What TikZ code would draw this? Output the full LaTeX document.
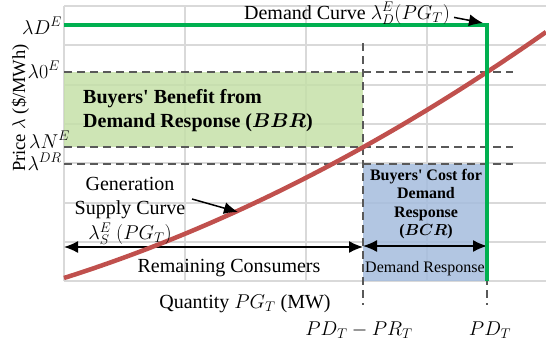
\RequirePackage{fix-cm}
\documentclass[tikz,border=0pt]{standalone}
\usepackage{amsmath}
\usepackage{bm}
\usepackage{fontspec}
\setmainfont{Liberation Serif}
\usetikzlibrary{arrows,arrows.meta,positioning}
\definecolor{gridgray}{RGB}{217,217,217}
\definecolor{guidegray}{RGB}{89,89,89}
\definecolor{supplyred}{RGB}{192,80,77}
\definecolor{demandgreen}{RGB}{0,176,80}
\definecolor{bbrgreen}{RGB}{197,224,168}
\definecolor{bcrblue}{RGB}{165,188,221}
\tikzstyle{gridline} = [draw, line width=1.2pt, color=gridgray]
\tikzstyle{guide} = [draw, line width=2.2pt, color=guidegray, dash pattern=on 8pt off 5pt]
\tikzstyle{supply} = [draw, line width=4.5pt, color=supplyred]
\tikzstyle{demand} = [draw, line width=4pt, color=demandgreen]
\tikzstyle{arrow} = [draw, line width=1.5pt, -{Latex[length=14pt,width=12pt]}]
\tikzstyle{span} = [draw, line width=1.5pt, {Latex[length=14pt,width=12pt]}-{Latex[length=14pt,width=12pt]}]
\tikzstyle{pricelabel} = [anchor=base east, inner sep=0pt, font=\fontsize{20}{24}\selectfont]
\tikzstyle{textlabel} = [anchor=base, inner sep=0pt, align=center, font=\fontsize{20}{24}\selectfont]
\tikzstyle{arealabel} = [inner sep=0pt, align=left, font=\fontsize{20}{24.5}\selectfont\bfseries]
\tikzstyle{smalllabel} = [inner sep=0pt, align=center, font=\fontsize{16}{18.5}\selectfont]
\newcommand{\pricelabel}[2]{node (l#1) [pricelabel] {#2}}
\newcommand{\sq}{\textquotesingle}

\begin{document}
\begin{tikzpicture}[x=1pt,y=-1pt]
\useasboundingbox (0,0) rectangle (546,349);
% grid
\foreach \x in {64,185,306,427} \path [gridline] (\x,6) -- (\x,281);
\foreach \y in {6,45,85,124,163,203,242,281} \path [gridline] (64,\y) -- (546,\y);

% areas
\path [fill=bbrgreen, fill opacity=0.85] (64,72) rectangle (363,147);
\path [fill=bcrblue, fill opacity=0.85] (363,164) rectangle (487,281);

% price and quantity levels
\coordinate (p0w) at (64,72);   \coordinate (p0e) at (513,72);
\coordinate (pNw) at (64,147);  \coordinate (pNe) at (513,147);
\coordinate (pRw) at (64,164);  \coordinate (pRe) at (513,164);
\coordinate (qRn) at (363,43);  \coordinate (qRs) at (363,305);
\coordinate (qDn) at (487,43);  \coordinate (qDs) at (487,305);
\path [guide] (p0w) -- (p0e);
\path [guide] (pNw) -- (pNe);
\path [guide] (pRw) -- (pRe);
\path [guide] (qRn) -- (qRs);
\path [guide] (qDn) -- (qDs);

% spans
\coordinate (s0) at (64,247);
\coordinate (s1) at (363,247);
\coordinate (s2) at (363,246);
\coordinate (s3) at (487,246);
\path [span] (s0) -- (s1);
\path [span] (s2) -- (s3);

% supply curve
\coordinate (sa) at (64,278);
\coordinate (sb) at (546,32);
\path [supply] (sa) .. controls (225,227) and (385,145) .. (sb);

% demand curve
\coordinate (da) at (64,25);
\coordinate (db) at (487,281);
\path [demand, line join=miter] (da) -| (db);

% price labels
\path (62,34) \pricelabel{1}{$\lambda D^E$};
\path (60,78) \pricelabel{2}{$\lambda 0^E$};
\path (70,148) \pricelabel{3}{$\lambda N^E$};
\path (62,170) \pricelabel{4}{$\lambda^{DR}$};
\node (yaxis) [textlabel, rotate=90, font=\fontsize{18.5}{22}\selectfont] at (25,108) {Price $\lambda$ (\$/MWh)};

% curve labels
\node (dlabel) [textlabel] at (347,19) {Demand Curve $\lambda_D^E(PG_T)$};
\coordinate (dtip) at (483,23);
\path [arrow] ([xshift=4pt,yshift=-4pt]dlabel.east) -- (dtip);
\node (slabel) [textlabel, anchor=center, font=\fontsize{20}{24.5}\selectfont] at (130,211) {Generation\\Supply Curve\\$\lambda_S^E\ (PG_T)$};
\coordinate (stip) at (238,212);
\path [arrow] (192,199) -- (stip);

% area labels
\node (bbr) [arealabel, anchor=north west] at (83,89) {Buyers\sq{} Benefit from\\Demand Response ($\bm{BBR}$)};
\node (bcr) [smalllabel, font=\fontsize{16}{18.5}\selectfont\bfseries] at (426,204) {Buyers\sq{} Cost for\\Demand\\Response\\($\bm{BCR}$)};

% span labels
\node (remain) [textlabel] at (229,272) {Remaining Consumers};
\node (dresp) [smalllabel, anchor=base] at (425,272) {Demand Response};

% quantity labels
\node (qaxis) [textlabel] at (245,308) {Quantity $PG_T$ (MW)};
\node (qR) [textlabel] at (359,335) {$PD_T-PR_T$};
\node (qD) [textlabel] at (490,335) {$PD_T$};
\end{tikzpicture}
\end{document}
